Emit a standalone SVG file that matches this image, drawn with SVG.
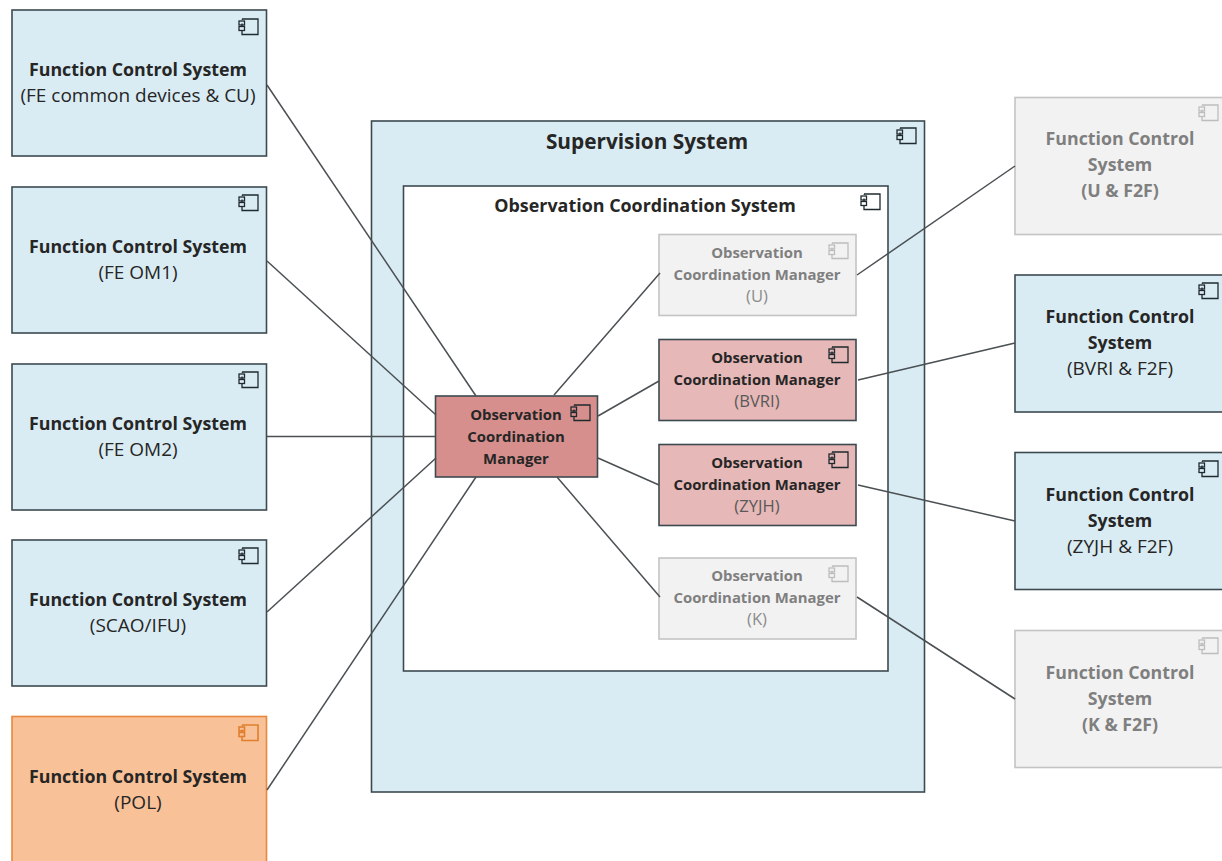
<svg xmlns="http://www.w3.org/2000/svg" xmlns:xlink="http://www.w3.org/1999/xlink" width="1222" height="861" viewBox="0 0 1222 861">
<style>
.box{stroke:#3c4a50;stroke-width:1.6}
.fcs{fill:#daecf3}
.pol{fill:#f9c197;stroke:#e8883c;stroke-width:1.6}
.off{fill:#f2f2f2;stroke:#c4c4c4;stroke-width:1.6}
.sel{fill:#e6b8b7}
.main{fill:#d68f8d}
.white{fill:#fff}
text{font-family:"Open Sans","Noto Sans","Liberation Sans",sans-serif;text-anchor:middle;fill:#262626}
.b{font-weight:700}
.s{font-size:14.9px}
.r{font-size:16.600px;font-weight:400}
.h{font-size:20.800px}
.o{font-size:17.800px}
.n{font-size:19px;font-weight:400}
.g{fill:#7f7f7f}
.dim{fill:#8c8c8c}
.ic{fill:none;stroke:#1f2a2e;stroke-width:1.3}
.ic-g{fill:none;stroke:#bdbdbd;stroke-width:1.3}
.ic-o{fill:none;stroke:#e07f2e;stroke-width:1.6}
.lines line{stroke:#4a5053;stroke-width:1.5}
</style>
<defs>
<g id="cmp">
<path d="M3 0H19V15.5H3V11.5M3 7.5V4.5M3 0.5V1"/>
<rect x="0" y="2" width="5.5" height="4"/>
<rect x="0" y="7.5" width="5.5" height="4"/>
</g>
</defs>

<g id="supervision">
<rect class="box fcs" x="371.500" y="121" width="553" height="671"/>
<text class="b h" x="647" y="149">Supervision System</text>
<use href="#cmp" class="ic" x="897" y="128"/>
</g>
<g id="coordination">
<rect class="box white" x="403.500" y="186" width="484.500" height="485"/>
<text class="b" style="font-size:17.900px" x="645" y="212">Observation Coordination System</text>
<use href="#cmp" class="ic" x="861" y="194"/>
</g>

<g id="fcs-common">
<rect class="box fcs" x="12" y="10" width="254.500" height="146"/>
<use href="#cmp" class="ic" x="239" y="19"/>
<text class="b o" x="138" y="76">Function Control System</text>
<text class="n" x="138" y="102">(FE common devices &amp; CU)</text>
</g>
<g id="fcs-om1">
<rect class="box fcs" x="12" y="187" width="254.500" height="146"/>
<use href="#cmp" class="ic" x="239" y="195"/>
<text class="b o" x="138" y="253">Function Control System</text>
<text class="n" x="138" y="279">(FE OM1)</text>
</g>
<g id="fcs-om2">
<rect class="box fcs" x="12" y="364" width="254.500" height="146"/>
<use href="#cmp" class="ic" x="239" y="372"/>
<text class="b o" x="138" y="430">Function Control System</text>
<text class="n" x="138" y="456">(FE OM2)</text>
</g>
<g id="fcs-scao">
<rect class="box fcs" x="12" y="540" width="254.500" height="146"/>
<use href="#cmp" class="ic" x="239" y="548"/>
<text class="b o" x="138" y="606">Function Control System</text>
<text class="n" x="138" y="632">(SCAO/IFU)</text>
</g>
<g id="fcs-pol">
<rect class="pol" x="12" y="716.500" width="254.500" height="150"/>
<use href="#cmp" class="ic-o" x="239" y="725"/>
<text class="b o" x="138" y="783">Function Control System</text>
<text class="n" x="138" y="809">(POL)</text>
</g>

<g id="ocm-main">
<rect class="box main" x="435.500" y="396" width="162" height="81"/>
<use href="#cmp" class="ic" x="571" y="405"/>
<text class="b s" x="516" y="419.500">Observation</text>
<text class="b s" x="516" y="441.500">Coordination</text>
<text class="b s" x="516" y="463.500">Manager</text>
</g>
<g id="ocm-u">
<rect class="off" x="659" y="234.500" width="197" height="81"/>
<use href="#cmp" class="ic-g" x="829" y="243"/>
<text class="b s g" x="757" y="258">Observation</text>
<text class="b s g" x="757" y="280">Coordination Manager</text>
<text class="r dim" x="757" y="302">(U)</text>
</g>
<g id="ocm-bvri">
<rect class="box sel" x="659" y="339.500" width="197" height="81"/>
<use href="#cmp" class="ic" x="829" y="347"/>
<text class="b s" x="757" y="363">Observation</text>
<text class="b s" x="757" y="385">Coordination Manager</text>
<text class="r" style="fill:#595959" x="757" y="407">(BVRI)</text>
</g>
<g id="ocm-zyjh">
<rect class="box sel" x="659" y="444.500" width="197" height="81"/>
<use href="#cmp" class="ic" x="829" y="452"/>
<text class="b s" x="757" y="468">Observation</text>
<text class="b s" x="757" y="490">Coordination Manager</text>
<text class="r" style="fill:#595959" x="757" y="512">(ZYJH)</text>
</g>
<g id="ocm-k">
<rect class="off" x="659" y="558" width="197" height="81"/>
<use href="#cmp" class="ic-g" x="829" y="566"/>
<text class="b s g" x="757" y="581">Observation</text>
<text class="b s g" x="757" y="603">Coordination Manager</text>
<text class="r dim" x="757" y="625">(K)</text>
</g>

<g id="fcs-u">
<rect class="off" x="1015" y="97.500" width="220" height="137"/>
<use href="#cmp" class="ic-g" x="1199" y="105"/>
<text class="b o g" x="1120" y="145">Function Control</text>
<text class="b o g" x="1120" y="171">System</text>
<text class="b o g" x="1120" y="197">(U &amp; F2F)</text>
</g>
<g id="fcs-bvri">
<rect class="box fcs" x="1015" y="275" width="220" height="137"/>
<use href="#cmp" class="ic" x="1199" y="283"/>
<text class="b o" x="1120" y="323">Function Control</text>
<text class="b o" x="1120" y="349">System</text>
<text class="n" x="1120" y="375">(BVRI &amp; F2F)</text>
</g>
<g id="fcs-zyjh">
<rect class="box fcs" x="1015" y="452.500" width="220" height="137"/>
<use href="#cmp" class="ic" x="1199" y="461"/>
<text class="b o" x="1120" y="501">Function Control</text>
<text class="b o" x="1120" y="527">System</text>
<text class="n" x="1120" y="553">(ZYJH &amp; F2F)</text>
</g>
<g id="fcs-k">
<rect class="off" x="1015" y="630.500" width="220" height="137"/>
<use href="#cmp" class="ic-g" x="1199" y="638"/>
<text class="b o g" x="1120" y="679">Function Control</text>
<text class="b o g" x="1120" y="705">System</text>
<text class="b o g" x="1120" y="731">(K &amp; F2F)</text>
</g>

<g id="connectors" class="lines">
<line x1="267" y1="85" x2="476" y2="396"/>
<line x1="267" y1="261" x2="436" y2="415"/>
<line x1="267" y1="436.500" x2="436" y2="436.500"/>
<line x1="267" y1="612" x2="436" y2="458"/>
<line x1="267" y1="790" x2="476" y2="477"/>
<line x1="554" y1="395" x2="660" y2="273"/>
<line x1="598" y1="416" x2="659" y2="381"/>
<line x1="598" y1="458" x2="659" y2="485"/>
<line x1="557" y1="477" x2="660" y2="597"/>
<line x1="857" y1="275" x2="1015" y2="166"/>
<line x1="858" y1="380" x2="1015" y2="343"/>
<line x1="858" y1="485" x2="1015" y2="521"/>
<line x1="857" y1="597" x2="1015" y2="699"/>
</g>
</svg>
